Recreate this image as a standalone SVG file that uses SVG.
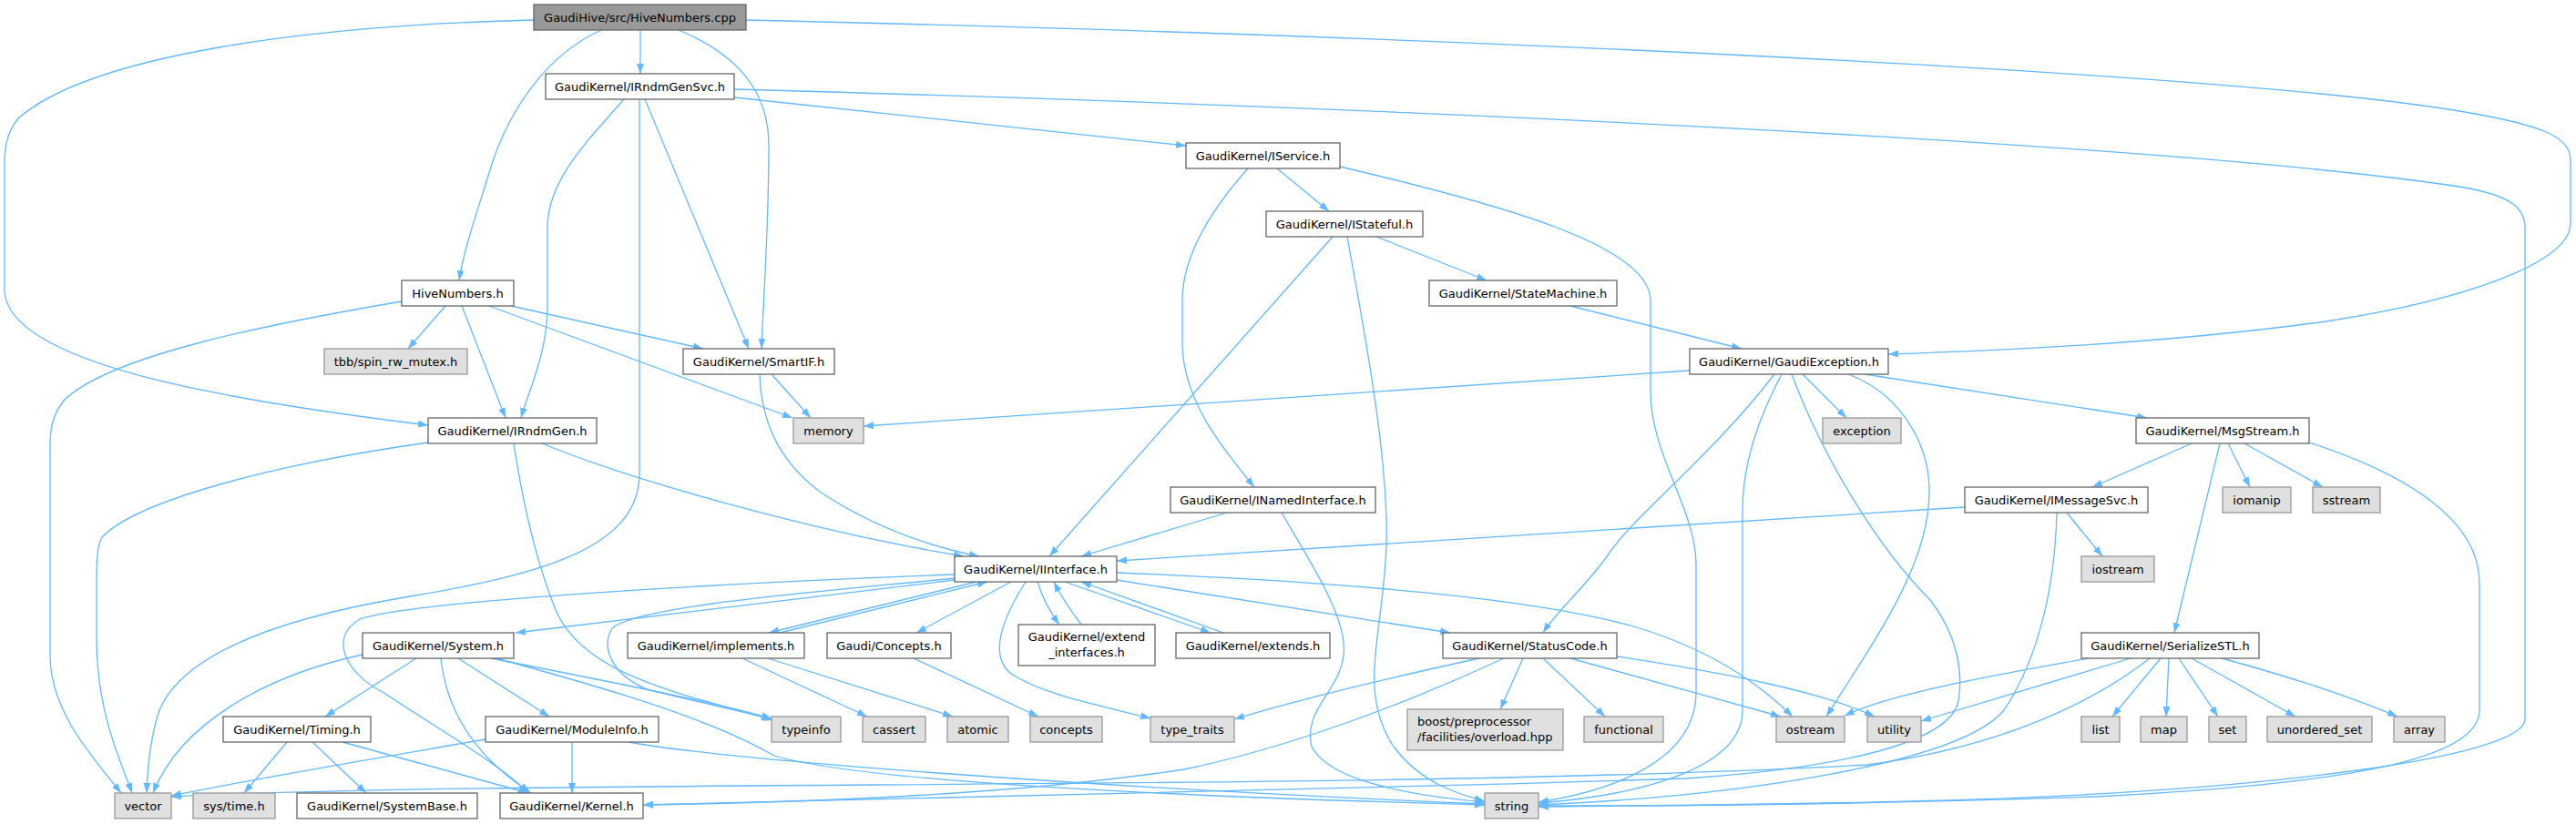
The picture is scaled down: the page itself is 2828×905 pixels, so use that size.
<svg xmlns="http://www.w3.org/2000/svg" width="2828" height="905" viewBox="0 0 2828 905">
<style>
text{font-family:"DejaVu Sans","Liberation Sans",sans-serif;font-size:13px;text-anchor:middle;fill:#000}
.n rect{fill:#fff;stroke:#666;stroke-width:1.3}
.g rect{fill:#e0e0e0;stroke:#999;stroke-width:1.3}
.r rect{fill:#999;stroke:#666;stroke-width:1.3}
#edges path{fill:none;stroke:#63b8ff;stroke-width:1.3;marker-end:url(#a)}
</style>
<defs>
<marker id="a" viewBox="0 0 11 8" refX="11" refY="4" markerWidth="11" markerHeight="8" markerUnits="userSpaceOnUse" orient="auto"><path d="M0,0 L11,4 L0,8 z" fill="#63b8ff"/></marker>
</defs>
<rect width="2828" height="905" fill="#fff"/>
<g id="edges">
<path d="M703,33 L703,81"/>
<path d="M660,33 C600,60 560,120 540,180 C525,230 510,270 504,308"/>
<path d="M586,22 C340,28 100,60 20,130 C8,145 5,160 5,180 L5,320 C10,400 250,440 470,467"/>
<path d="M745,33 C810,60 844,100 844,160 C844,250 838,330 836,383"/>
<path d="M819,22 C1600,40 2450,80 2700,122 C2790,137 2822,150 2822,175 L2822,245 C2822,290 2700,330 2560,352 C2400,375 2200,385 2073,389"/>
<path d="M806,107 L1302,160"/>
<path d="M806,98 C1600,120 2400,160 2700,205 C2760,215 2772,230 2772,250 L2772,790 C2772,830 2500,870 2100,880 C1900,885 1750,885 1689,886"/>
<path d="M708,109 L822,383"/>
<path d="M685,109 C640,160 601,200 601,250 L601,340 C600,390 580,430 572,459"/>
<path d="M702,109 L702,520 C702,600 600,630 450,655 C300,680 200,720 175,780 C165,810 162,840 161,871"/>
<path d="M489,336 L448,383"/>
<path d="M507,336 L555,459"/>
<path d="M561,336 L772,383"/>
<path d="M537,336 L870,459"/>
<path d="M441,331 C300,355 120,390 70,440 C58,455 55,470 55,490 L55,720 C55,780 100,830 133,871"/>
<path d="M847,411 L890,459"/>
<path d="M834,411 C836,470 860,510 900,540 C960,580 1020,600 1075,611"/>
<path d="M595,487 C700,530 900,585 1058,611"/>
<path d="M470,486 C300,510 150,550 112,590 C106,600 106,620 106,640 L106,700 C106,780 130,830 145,871"/>
<path d="M564,487 C575,560 590,620 610,670 C640,740 740,760 849,791"/>
<path d="M1402,185 L1459,232"/>
<path d="M1370,185 C1330,230 1298,280 1298,330 L1298,380 C1300,440 1340,490 1377,535"/>
<path d="M1471,183 C1650,225 1812,270 1812,330 L1812,430 C1812,500 1862,560 1862,620 L1862,760 C1862,840 1760,870 1689,881"/>
<path d="M1463,260 L1152,611"/>
<path d="M1511,260 L1632,308"/>
<path d="M1479,260 C1495,350 1525,500 1522,600 C1518,700 1490,760 1530,820 C1560,860 1600,872 1630,880"/>
<path d="M1724,336 L1912,383"/>
<path d="M1855,407 L948,468"/>
<path d="M1948,411 C1880,500 1790,570 1765,610 C1740,645 1710,670 1694,695"/>
<path d="M1956,411 C1930,460 1913,510 1913,560 L1913,780 C1913,850 1780,875 1689,882"/>
<path d="M1979,411 L2027,459"/>
<path d="M1967,411 C2000,500 2060,600 2120,660 C2150,700 2155,740 2150,770 C2140,820 2000,845 1850,855 C1400,870 900,878 706,884"/>
<path d="M2029,411 C2080,430 2118,480 2118,540 C2118,620 2060,700 2005,787"/>
<path d="M2047,411 L2357,459"/>
<path d="M2406,487 L2297,535"/>
<path d="M2446,487 L2470,535"/>
<path d="M2464,487 L2550,535"/>
<path d="M2437,487 L2387,695"/>
<path d="M2535,486 C2640,520 2722,570 2722,640 L2722,780 C2722,830 2600,860 2300,875 C2000,885 1800,885 1689,885"/>
<path d="M2157,557 L1226,616"/>
<path d="M2269,563 L2308,611"/>
<path d="M2258,563 C2256,640 2240,720 2200,780 C2150,840 1900,875 1689,884"/>
<path d="M1347,563 L1187,611"/>
<path d="M1407,563 C1440,620 1480,680 1475,720 C1470,760 1430,780 1440,820 C1460,860 1560,875 1630,881"/>
<path d="M1072,639 L844,695"/>
<path d="M856,695 L1084,639"/>
<path d="M1110,639 L1006,695"/>
<path d="M1139,639 C1145,660 1155,675 1163,686"/>
<path d="M1187,686 C1175,670 1165,655 1157,639"/>
<path d="M1169,639 L1329,695"/>
<path d="M1343,695 L1187,639"/>
<path d="M1126,639 C1100,680 1085,720 1110,740 C1150,765 1210,775 1263,789"/>
<path d="M1226,629 C1500,640 1700,660 1800,690 C1880,715 1930,750 1968,787"/>
<path d="M1226,637 L1592,695"/>
<path d="M1048,631 C800,640 450,660 395,680 C360,700 380,740 420,760 C480,800 550,840 580,871"/>
<path d="M1048,637 L566,695"/>
<path d="M1048,635 C900,650 700,665 672,690 C660,710 670,740 710,757 C760,770 810,780 847,790"/>
<path d="M457,723 L357,787"/>
<path d="M503,723 L603,787"/>
<path d="M484,723 C490,780 520,830 583,871"/>
<path d="M398,719 C300,740 200,790 168,871"/>
<path d="M539,723 C650,745 780,770 847,789"/>
<path d="M545,723 C680,760 780,790 850,830 C950,860 1300,875 1630,884"/>
<path d="M315,815 L268,871"/>
<path d="M343,815 L402,871"/>
<path d="M376,815 L580,871"/>
<path d="M628,815 L628,871"/>
<path d="M533,812 C400,835 280,855 188,874"/>
<path d="M690,815 C800,835 1200,865 1630,883"/>
<path d="M1672,723 L1647,779"/>
<path d="M1694,723 L1762,787"/>
<path d="M1724,723 L1955,787"/>
<path d="M1775,721 C1900,740 2000,760 2058,787"/>
<path d="M1624,723 C1500,750 1420,770 1355,790"/>
<path d="M1651,723 C1550,770 1420,820 1300,845 C1100,875 850,882 706,884"/>
<path d="M2293,723 C2200,740 2080,760 2025,786"/>
<path d="M2339,723 L2109,792"/>
<path d="M2360,723 C2300,770 2200,820 2050,840 C1500,870 600,855 188,875"/>
<path d="M2372,723 L2319,787"/>
<path d="M2381,723 L2378,787"/>
<path d="M2392,723 L2435,787"/>
<path d="M2406,723 L2520,787"/>
<path d="M2439,723 C2520,745 2580,765 2632,787"/>
<path d="M815,723 L952,787"/>
<path d="M843,723 L1046,787"/>
<path d="M1003,723 L1140,787"/>
</g>
<g id="n_root" class="r"><rect x="586" y="5" width="233" height="28"/><text x="702.5" y="23.5">GaudiHive/src/HiveNumbers.cpp</text></g>
<g id="n_IRndmGenSvc" class="n"><rect x="599" y="81" width="207" height="28"/><text x="702.5" y="99.5">GaudiKernel/IRndmGenSvc.h</text></g>
<g id="n_IService" class="n"><rect x="1302" y="157" width="169" height="28"/><text x="1386.5" y="175.5">GaudiKernel/IService.h</text></g>
<g id="n_IStateful" class="n"><rect x="1390" y="232" width="172" height="28"/><text x="1476" y="250.5">GaudiKernel/IStateful.h</text></g>
<g id="n_HiveNumbers" class="n"><rect x="441" y="308" width="123" height="28"/><text x="502.5" y="326.5">HiveNumbers.h</text></g>
<g id="n_StateMachine" class="n"><rect x="1569" y="308" width="206" height="28"/><text x="1672" y="326.5">GaudiKernel/StateMachine.h</text></g>
<g id="n_tbb" class="g"><rect x="356" y="383" width="157" height="28"/><text x="434.5" y="401.5">tbb/spin_rw_mutex.h</text></g>
<g id="n_SmartIF" class="n"><rect x="750" y="383" width="166" height="28"/><text x="833" y="401.5">GaudiKernel/SmartIF.h</text></g>
<g id="n_GaudiException" class="n"><rect x="1855" y="383" width="218" height="28"/><text x="1964" y="401.5">GaudiKernel/GaudiException.h</text></g>
<g id="n_IRndmGen" class="n"><rect x="470" y="459" width="185" height="28"/><text x="562.5" y="477.5">GaudiKernel/IRndmGen.h</text></g>
<g id="n_memory" class="g"><rect x="871" y="459" width="77" height="28"/><text x="909.5" y="477.5">memory</text></g>
<g id="n_exception" class="g"><rect x="2001" y="459" width="86" height="28"/><text x="2044" y="477.5">exception</text></g>
<g id="n_MsgStream" class="n"><rect x="2345" y="459" width="190" height="28"/><text x="2440" y="477.5">GaudiKernel/MsgStream.h</text></g>
<g id="n_INamedInterface" class="n"><rect x="1285" y="535" width="225" height="28"/><text x="1397.5" y="553.5">GaudiKernel/INamedInterface.h</text></g>
<g id="n_IMessageSvc" class="n"><rect x="2157" y="535" width="201" height="28"/><text x="2257.5" y="553.5">GaudiKernel/IMessageSvc.h</text></g>
<g id="n_iomanip" class="g"><rect x="2440" y="535" width="75" height="28"/><text x="2477.5" y="553.5">iomanip</text></g>
<g id="n_sstream" class="g"><rect x="2539" y="535" width="74" height="28"/><text x="2576" y="553.5">sstream</text></g>
<g id="n_IInterface" class="n"><rect x="1048" y="611" width="178" height="28"/><text x="1137" y="629.5">GaudiKernel/IInterface.h</text></g>
<g id="n_iostream" class="g"><rect x="2285" y="611" width="80" height="28"/><text x="2325" y="629.5">iostream</text></g>
<g id="n_System" class="n"><rect x="398" y="695" width="166" height="28"/><text x="481" y="713.5">GaudiKernel/System.h</text></g>
<g id="n_implements" class="n"><rect x="689" y="695" width="194" height="28"/><text x="786" y="713.5">GaudiKernel/implements.h</text></g>
<g id="n_Concepts" class="n"><rect x="908" y="695" width="136" height="28"/><text x="976" y="713.5">Gaudi/Concepts.h</text></g>
<g id="n_extend_interfaces" class="n"><rect x="1118" y="686" width="150" height="45"/><text x="1193" y="704">GaudiKernel/extend</text><text x="1193" y="721">_interfaces.h</text></g>
<g id="n_extends" class="n"><rect x="1291" y="695" width="169" height="28"/><text x="1375.5" y="713.5">GaudiKernel/extends.h</text></g>
<g id="n_StatusCode" class="n"><rect x="1584" y="695" width="191" height="28"/><text x="1679.5" y="713.5">GaudiKernel/StatusCode.h</text></g>
<g id="n_SerializeSTL" class="n"><rect x="2285" y="695" width="195" height="28"/><text x="2382.5" y="713.5">GaudiKernel/SerializeSTL.h</text></g>
<g id="n_Timing" class="n"><rect x="245" y="787" width="162" height="28"/><text x="326" y="805.5">GaudiKernel/Timing.h</text></g>
<g id="n_ModuleInfo" class="n"><rect x="533" y="787" width="190" height="28"/><text x="628" y="805.5">GaudiKernel/ModuleInfo.h</text></g>
<g id="n_typeinfo" class="g"><rect x="847" y="787" width="76" height="28"/><text x="885" y="805.5">typeinfo</text></g>
<g id="n_cassert" class="g"><rect x="947" y="787" width="69" height="28"/><text x="981.5" y="805.5">cassert</text></g>
<g id="n_atomic" class="g"><rect x="1040" y="787" width="67" height="28"/><text x="1073.5" y="805.5">atomic</text></g>
<g id="n_concepts" class="g"><rect x="1131" y="787" width="79" height="28"/><text x="1170.5" y="805.5">concepts</text></g>
<g id="n_type_traits" class="g"><rect x="1263" y="787" width="92" height="28"/><text x="1309" y="805.5">type_traits</text></g>
<g id="n_boost" class="g"><rect x="1545" y="779" width="171" height="45"/><text x="1556" y="797" style="text-anchor:start">boost/preprocessor</text><text x="1556" y="814" style="text-anchor:start">/facilities/overload.hpp</text></g>
<g id="n_functional" class="g"><rect x="1739" y="787" width="87" height="28"/><text x="1782.5" y="805.5">functional</text></g>
<g id="n_ostream" class="g"><rect x="1950" y="787" width="75" height="28"/><text x="1987.5" y="805.5">ostream</text></g>
<g id="n_utility" class="g"><rect x="2050" y="787" width="59" height="28"/><text x="2079.5" y="805.5">utility</text></g>
<g id="n_list" class="g"><rect x="2285" y="787" width="42" height="28"/><text x="2306" y="805.5">list</text></g>
<g id="n_map" class="g"><rect x="2350" y="787" width="51" height="28"/><text x="2375.5" y="805.5">map</text></g>
<g id="n_set" class="g"><rect x="2425" y="787" width="41" height="28"/><text x="2445.5" y="805.5">set</text></g>
<g id="n_unordered_set" class="g"><rect x="2489" y="787" width="115" height="28"/><text x="2546.5" y="805.5">unordered_set</text></g>
<g id="n_array" class="g"><rect x="2628" y="787" width="56" height="28"/><text x="2656" y="805.5">array</text></g>
<g id="n_vector" class="g"><rect x="126" y="871" width="62" height="28"/><text x="157" y="889.5">vector</text></g>
<g id="n_systime" class="g"><rect x="212" y="871" width="90" height="28"/><text x="257" y="889.5">sys/time.h</text></g>
<g id="n_SystemBase" class="n"><rect x="326" y="871" width="198" height="28"/><text x="425" y="889.5">GaudiKernel/SystemBase.h</text></g>
<g id="n_Kernel" class="n"><rect x="549" y="871" width="157" height="28"/><text x="627.5" y="889.5">GaudiKernel/Kernel.h</text></g>
<g id="n_string" class="g"><rect x="1630" y="871" width="59" height="28"/><text x="1659.5" y="889.5">string</text></g>
</svg>
